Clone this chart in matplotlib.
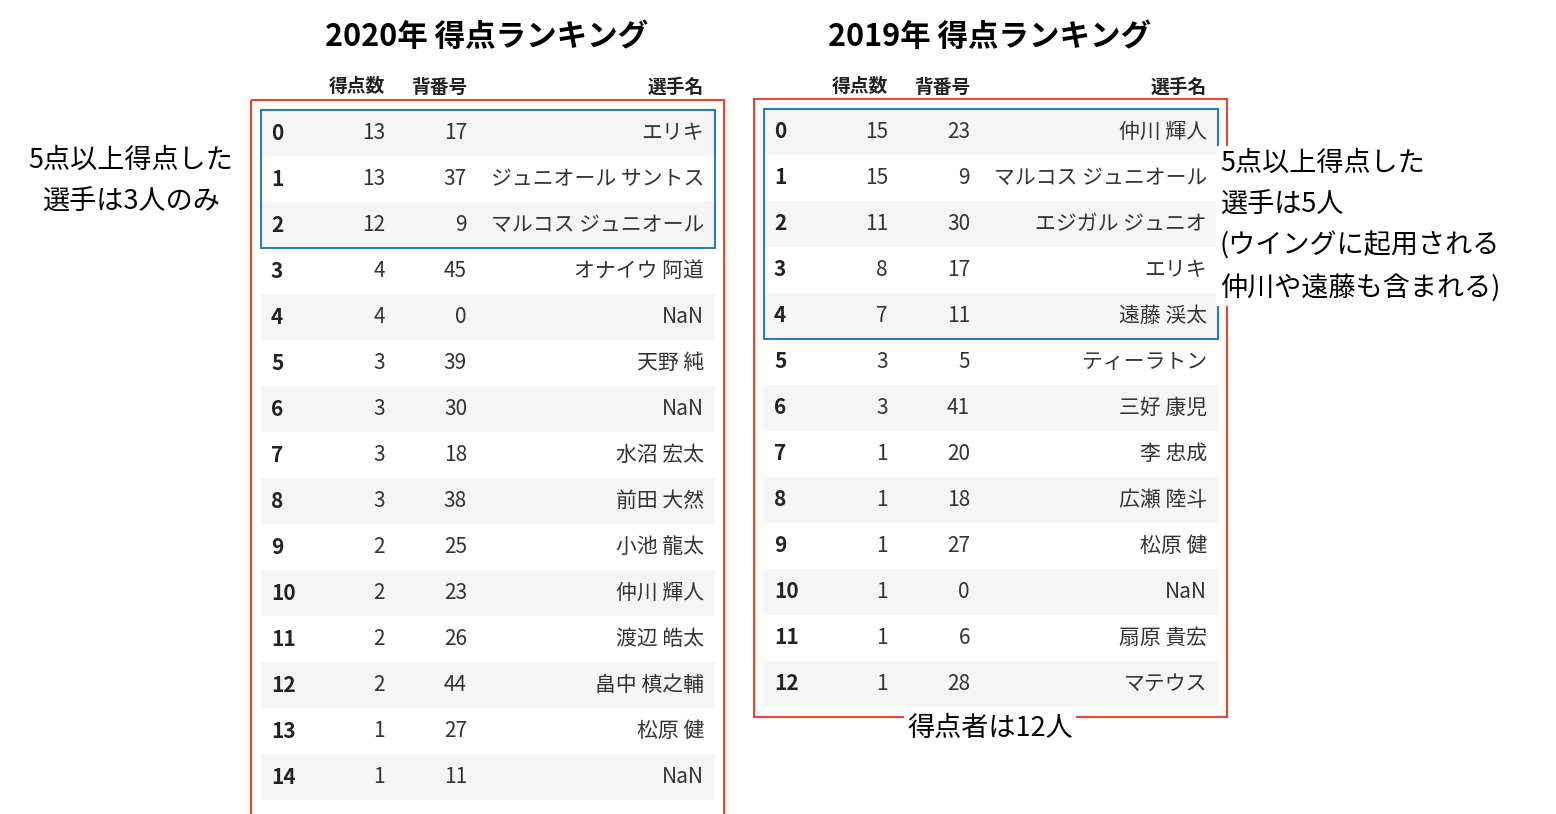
import matplotlib.pyplot as plt
from matplotlib.patches import Rectangle

plt.rcParams['font.family'] = 'Noto Sans CJK JP'

# データ
columns = ['得点数', '背番号', '選手名']
goals_2020 = [13, 13, 12, 4, 4, 3, 3, 3, 3, 2, 2, 2, 2, 1, 1]
numbers_2020 = [17, 37, 9, 45, 0, 39, 30, 18, 38, 25, 23, 26, 44, 27, 11]
names_2020 = ['エリキ', 'ジュニオール サントス', 'マルコス ジュニオール', 'オナイウ 阿道', 'NaN',
              '天野 純', 'NaN', '水沼 宏太', '前田 大然', '小池 龍太', '仲川 輝人',
              '渡辺 皓太', '畠中 槙之輔', '松原 健', 'NaN']
goals_2019 = [15, 15, 11, 8, 7, 3, 3, 1, 1, 1, 1, 1, 1]
numbers_2019 = [23, 9, 30, 17, 11, 5, 41, 20, 18, 27, 0, 6, 28]
names_2019 = ['仲川 輝人', 'マルコス ジュニオール', 'エジガル ジュニオ', 'エリキ', '遠藤 渓太',
              'ティーラトン', '三好 康児', '李 忠成', '広瀬 陸斗', '松原 健', 'NaN',
              '扇原 貴宏', 'マテウス']

fig = plt.figure(figsize=(15.56, 8.14), dpi=100)
ax = fig.add_axes([0, 0, 1, 1])
ax.set_xlim(0, 1556)
ax.set_ylim(814, 0)
ax.axis('off')

RED = '#e8432e'
BLUE = '#2a7fb0'
ROW_H = 46


def draw_table(x0, y0, title, goals, numbers, names, blue_rows, red_bottom):
    ax.text(x0 + 226, 37, title, ha='center', va='center', fontsize=22, fontweight='bold')
    for lbl, xr in zip(columns, [x0 + 124, x0 + 206, x0 + 443]):
        ax.text(xr, 87, lbl, ha='right', va='center', fontsize=13.5, fontweight='bold', color='#222222')
    for i, (g, n, nm) in enumerate(zip(goals, numbers, names)):
        yc = y0 + i * ROW_H
        if i % 2 == 0:
            ax.add_patch(Rectangle((x0, yc - ROW_H / 2), 454, ROW_H, color='#f5f5f5', lw=0))
        ax.text(x0 + 10, yc, str(i), ha='left', va='center', fontsize=15, fontweight='bold', color='#222222')
        ax.text(x0 + 124, yc, str(g), ha='right', va='center', fontsize=15, color='#333333')
        ax.text(x0 + 206, yc, str(n), ha='right', va='center', fontsize=15, color='#333333')
        ax.text(x0 + 443, yc, nm, ha='right', va='center', fontsize=15, color='#333333')
    ax.add_patch(Rectangle((x0 - 10, y0 - 33), 473, red_bottom - (y0 - 33), fill=False, ec=RED, lw=1.5))
    ax.add_patch(Rectangle((x0, y0 - ROW_H / 2), 454, blue_rows * ROW_H, fill=False, ec=BLUE, lw=1.5))


draw_table(261, 133, '2020年 得点ランキング', goals_2020, numbers_2020, names_2020, 3, 830)
draw_table(764, 132, '2019年 得点ランキング', goals_2019, numbers_2019, names_2019, 5, 717)

ax.text(131, 181, '5点以上得点した\n選手は3人のみ', ha='center', va='center', fontsize=19.5,
        linespacing=1.65, bbox=dict(fc='white', ec='none', pad=3))
ax.text(1220, 226, '5点以上得点した\n選手は5人\n(ウイングに起用される\n仲川や遠藤も含まれる)',
        ha='left', va='center', fontsize=19.5, linespacing=1.65, bbox=dict(fc='white', ec='none', pad=3))
ax.text(990, 728, '得点者は12人', ha='center', va='center', fontsize=19.5,
        bbox=dict(fc='white', ec='none', pad=2))

fig.savefig('out.png', dpi=100, facecolor='white')
